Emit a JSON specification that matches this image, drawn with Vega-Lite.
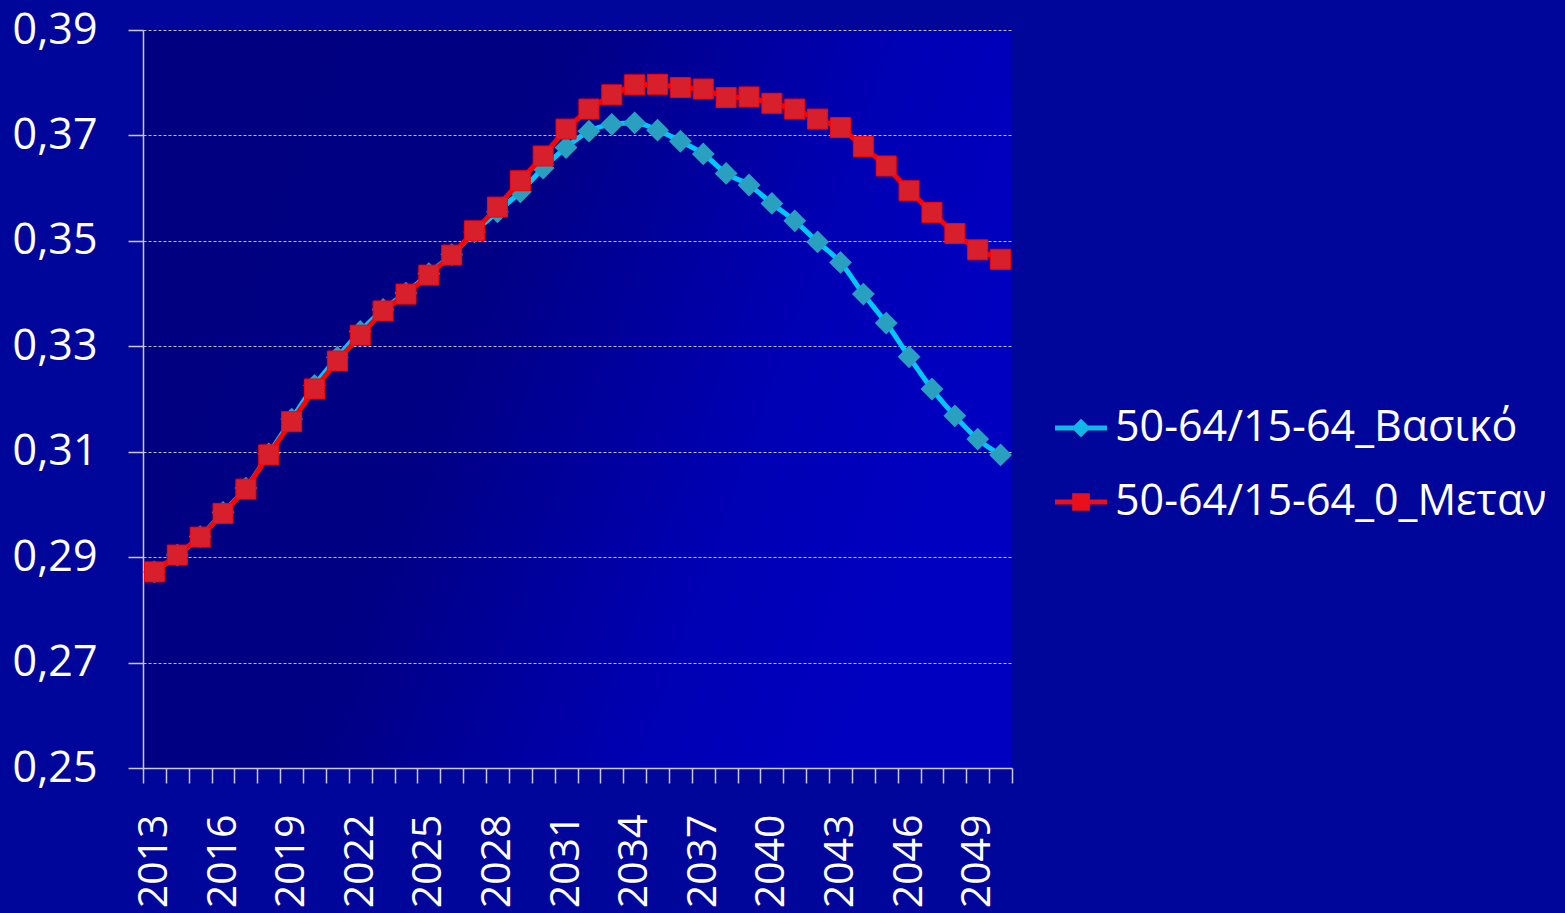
{
  "$schema": "https://vega.github.io/schema/vega-lite/v6.json",
  "width": 869,
  "height": 738,
  "autosize": {"type": "none"},
  "padding": {"left": 143, "top": 30, "right": 553, "bottom": 145},
  "background": "#00069a",
  "config": {
    "font": "Open Sans",
    "view": {
      "stroke": null,
      "fill": {
        "gradient": "linear",
        "x1": 0, "y1": 0, "x2": 1, "y2": 0.3,
        "stops": [
          {"offset": 0, "color": "#000080"},
          {"offset": 0.45, "color": "#000084"},
          {"offset": 0.8, "color": "#0000b4"},
          {"offset": 1, "color": "#0000c0"}
        ]
      }
    }
  },
  "data": {
    "values": [
      {"year": 2013, "series": "50-64/15-64_Βασικό", "value": 0.2872},
      {"year": 2014, "series": "50-64/15-64_Βασικό", "value": 0.2904},
      {"year": 2015, "series": "50-64/15-64_Βασικό", "value": 0.2939},
      {"year": 2016, "series": "50-64/15-64_Βασικό", "value": 0.2985},
      {"year": 2017, "series": "50-64/15-64_Βασικό", "value": 0.3031},
      {"year": 2018, "series": "50-64/15-64_Βασικό", "value": 0.3096},
      {"year": 2019, "series": "50-64/15-64_Βασικό", "value": 0.3162},
      {"year": 2020, "series": "50-64/15-64_Βασικό", "value": 0.3226},
      {"year": 2021, "series": "50-64/15-64_Βασικό", "value": 0.3279},
      {"year": 2022, "series": "50-64/15-64_Βασικό", "value": 0.3328},
      {"year": 2023, "series": "50-64/15-64_Βασικό", "value": 0.3370},
      {"year": 2024, "series": "50-64/15-64_Βασικό", "value": 0.3401},
      {"year": 2025, "series": "50-64/15-64_Βασικό", "value": 0.3438},
      {"year": 2026, "series": "50-64/15-64_Βασικό", "value": 0.3474},
      {"year": 2027, "series": "50-64/15-64_Βασικό", "value": 0.3517},
      {"year": 2028, "series": "50-64/15-64_Βασικό", "value": 0.3555},
      {"year": 2029, "series": "50-64/15-64_Βασικό", "value": 0.3593},
      {"year": 2030, "series": "50-64/15-64_Βασικό", "value": 0.3638},
      {"year": 2031, "series": "50-64/15-64_Βασικό", "value": 0.3677},
      {"year": 2032, "series": "50-64/15-64_Βασικό", "value": 0.3708},
      {"year": 2033, "series": "50-64/15-64_Βασικό", "value": 0.3721},
      {"year": 2034, "series": "50-64/15-64_Βασικό", "value": 0.3724},
      {"year": 2035, "series": "50-64/15-64_Βασικό", "value": 0.3710},
      {"year": 2036, "series": "50-64/15-64_Βασικό", "value": 0.3689},
      {"year": 2037, "series": "50-64/15-64_Βασικό", "value": 0.3665},
      {"year": 2038, "series": "50-64/15-64_Βασικό", "value": 0.3628},
      {"year": 2039, "series": "50-64/15-64_Βασικό", "value": 0.3606},
      {"year": 2040, "series": "50-64/15-64_Βασικό", "value": 0.3571},
      {"year": 2041, "series": "50-64/15-64_Βασικό", "value": 0.3538},
      {"year": 2042, "series": "50-64/15-64_Βασικό", "value": 0.3498},
      {"year": 2043, "series": "50-64/15-64_Βασικό", "value": 0.3459},
      {"year": 2044, "series": "50-64/15-64_Βασικό", "value": 0.3399},
      {"year": 2045, "series": "50-64/15-64_Βασικό", "value": 0.3344},
      {"year": 2046, "series": "50-64/15-64_Βασικό", "value": 0.3280},
      {"year": 2047, "series": "50-64/15-64_Βασικό", "value": 0.3219},
      {"year": 2048, "series": "50-64/15-64_Βασικό", "value": 0.3168},
      {"year": 2049, "series": "50-64/15-64_Βασικό", "value": 0.3124},
      {"year": 2050, "series": "50-64/15-64_Βασικό", "value": 0.3094},
      {"year": 2013, "series": "50-64/15-64_0_Μεταν", "value": 0.2872},
      {"year": 2014, "series": "50-64/15-64_0_Μεταν", "value": 0.2904},
      {"year": 2015, "series": "50-64/15-64_0_Μεταν", "value": 0.2938},
      {"year": 2016, "series": "50-64/15-64_0_Μεταν", "value": 0.2983},
      {"year": 2017, "series": "50-64/15-64_0_Μεταν", "value": 0.3029},
      {"year": 2018, "series": "50-64/15-64_0_Μεταν", "value": 0.3094},
      {"year": 2019, "series": "50-64/15-64_0_Μεταν", "value": 0.3157},
      {"year": 2020, "series": "50-64/15-64_0_Μεταν", "value": 0.3219},
      {"year": 2021, "series": "50-64/15-64_0_Μεταν", "value": 0.3272},
      {"year": 2022, "series": "50-64/15-64_0_Μεταν", "value": 0.3321},
      {"year": 2023, "series": "50-64/15-64_0_Μεταν", "value": 0.3367},
      {"year": 2024, "series": "50-64/15-64_0_Μεταν", "value": 0.3399},
      {"year": 2025, "series": "50-64/15-64_0_Μεταν", "value": 0.3435},
      {"year": 2026, "series": "50-64/15-64_0_Μεταν", "value": 0.3473},
      {"year": 2027, "series": "50-64/15-64_0_Μεταν", "value": 0.3519},
      {"year": 2028, "series": "50-64/15-64_0_Μεταν", "value": 0.3564},
      {"year": 2029, "series": "50-64/15-64_0_Μεταν", "value": 0.3614},
      {"year": 2030, "series": "50-64/15-64_0_Μεταν", "value": 0.3661},
      {"year": 2031, "series": "50-64/15-64_0_Μεταν", "value": 0.3712},
      {"year": 2032, "series": "50-64/15-64_0_Μεταν", "value": 0.3750},
      {"year": 2033, "series": "50-64/15-64_0_Μεταν", "value": 0.3777},
      {"year": 2034, "series": "50-64/15-64_0_Μεταν", "value": 0.3796},
      {"year": 2035, "series": "50-64/15-64_0_Μεταν", "value": 0.3797},
      {"year": 2036, "series": "50-64/15-64_0_Μεταν", "value": 0.3791},
      {"year": 2037, "series": "50-64/15-64_0_Μεταν", "value": 0.3788},
      {"year": 2038, "series": "50-64/15-64_0_Μεταν", "value": 0.3772},
      {"year": 2039, "series": "50-64/15-64_0_Μεταν", "value": 0.3773},
      {"year": 2040, "series": "50-64/15-64_0_Μεταν", "value": 0.3761},
      {"year": 2041, "series": "50-64/15-64_0_Μεταν", "value": 0.3750},
      {"year": 2042, "series": "50-64/15-64_0_Μεταν", "value": 0.3731},
      {"year": 2043, "series": "50-64/15-64_0_Μεταν", "value": 0.3715},
      {"year": 2044, "series": "50-64/15-64_0_Μεταν", "value": 0.3679},
      {"year": 2045, "series": "50-64/15-64_0_Μεταν", "value": 0.3642},
      {"year": 2046, "series": "50-64/15-64_0_Μεταν", "value": 0.3595},
      {"year": 2047, "series": "50-64/15-64_0_Μεταν", "value": 0.3554},
      {"year": 2048, "series": "50-64/15-64_0_Μεταν", "value": 0.3514},
      {"year": 2049, "series": "50-64/15-64_0_Μεταν", "value": 0.3483},
      {"year": 2050, "series": "50-64/15-64_0_Μεταν", "value": 0.3465}
    ]
  },
  "encoding": {
    "x": {
      "field": "year",
      "type": "ordinal",
      "scale": {"type": "band", "paddingInner": 0, "paddingOuter": 0},
      "axis": {
        "title": null,
        "labelAngle": 270,
        "labelExpr": "(datum.value - 2013) % 3 == 0 ? datum.label : ''",
        "tickBand": "extent",
        "tickSize": 15,
        "tickColor": "#c8c8d8",
        "tickWidth": 1.5,
        "domainColor": "#c8c8d8",
        "domainWidth": 1.5,
        "labelColor": "#ffffff",
        "labelFontSize": 41,
        "labelPadding": 31,
        "labelFont": "Open Sans",
        "grid": false
      }
    },
    "y": {
      "field": "value",
      "type": "quantitative",
      "scale": {"domain": [0.25, 0.39], "nice": false, "zero": false},
      "axis": {
        "title": null,
        "values": [0.25, 0.27, 0.29, 0.31, 0.33, 0.35, 0.37, 0.39],
        "labelExpr": "replace(format(datum.value, '.2f'), '.', ',')",
        "tickSize": 15,
        "tickColor": "#c8c8d8",
        "tickWidth": 1.5,
        "domainColor": "#c8c8d8",
        "domainWidth": 1.5,
        "labelColor": "#ffffff",
        "labelFontSize": 43,
        "labelPadding": 31,
        "labelFont": "Open Sans",
        "grid": true,
        "gridColor": "#c0c0dc",
        "gridDash": [3, 2],
        "gridWidth": 1
      }
    }
  },
  "layer": [
    {
      "transform": [{"filter": "datum.series == '50-64/15-64_Βασικό'"}],
      "mark": {"type": "line", "color": "#00c8ff", "strokeWidth": 5, "interpolate": "monotone"}
    },
    {
      "transform": [{"filter": "datum.series == '50-64/15-64_Βασικό'"}],
      "mark": {"type": "point", "shape": "diamond", "filled": true, "fill": "#2aa0c0", "opacity": 1, "size": 520, "strokeWidth": 0}
    },
    {
      "transform": [{"filter": "datum.series == '50-64/15-64_0_Μεταν'"}],
      "mark": {"type": "line", "color": "#ff0000", "strokeWidth": 5}
    },
    {
      "transform": [{"filter": "datum.series == '50-64/15-64_0_Μεταν'"}],
      "mark": {"type": "point", "shape": "square", "filled": true, "fill": "#d8202c", "stroke": "#ff0000", "strokeWidth": 1, "opacity": 1, "size": 400}
    },
    {
      "transform": [{"filter": "datum.value > 1"}],
      "mark": {"type": "point", "filled": true, "opacity": 1},
      "encoding": {
        "shape": {
          "field": "series",
          "type": "nominal",
          "scale": {
            "domain": ["50-64/15-64_Βασικό", "50-64/15-64_0_Μεταν"],
            "range": [
              "M-1,-0.1L1,-0.1L1,0.1L-1,0.1Z M0,-0.36L0.36,0L0,0.36L-0.36,0Z",
              "M-1,-0.1L1,-0.1L1,0.1L-1,0.1Z M-0.34,-0.34L0.34,-0.34L0.34,0.34L-0.34,0.34Z"
            ]
          },
          "legend": {
            "title": null,
            "orient": "none",
            "legendX": 912,
            "legendY": 372,
            "labelFontSize": 43,
            "labelFont": "Open Sans",
            "labelColor": "#ffffff",
            "labelLimit": 1000,
            "labelOffset": 8,
            "symbolSize": 2700,
            "symbolStrokeWidth": 0,
            "rowPadding": 26
          }
        },
        "color": {
          "field": "series",
          "type": "nominal",
          "scale": {
            "domain": ["50-64/15-64_Βασικό", "50-64/15-64_0_Μεταν"],
            "range": ["#10b8e8", "#e8101c"]
          },
          "legend": {
            "title": null,
            "orient": "none",
            "legendX": 912,
            "legendY": 372,
            "labelFontSize": 43,
            "labelFont": "Open Sans",
            "labelColor": "#ffffff",
            "labelLimit": 1000,
            "labelOffset": 8,
            "symbolSize": 2700,
            "symbolStrokeWidth": 0,
            "rowPadding": 26
          }
        }
      }
    }
  ]
}
